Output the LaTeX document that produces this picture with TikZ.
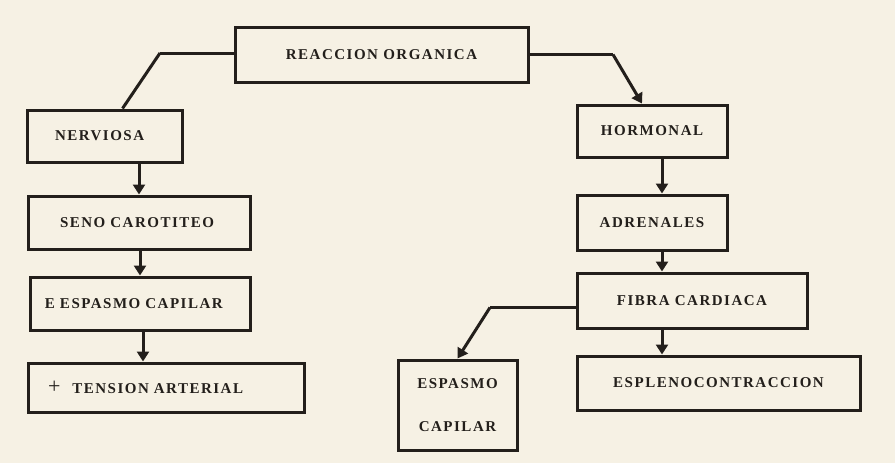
\documentclass[tikz,border=0pt]{standalone}
\usepackage{fontspec}
\usepackage{tikz}
\usetikzlibrary{arrows.meta,positioning}
\newfontfamily\boxfont{Liberation Serif}[LetterSpace=10]
\definecolor{paper}{HTML}{F6F1E4}
\definecolor{ink}{HTML}{231F1B}

\tikzset{
  box/.style={draw=ink, text=ink, line width=3pt, inner sep=0pt,
    font=\boxfont\bfseries\fontsize{15}{17}\selectfont, align=center},
  link/.style={draw=ink, line width=3pt, line join=round},
  arr/.style={link, -{Triangle[length=10pt,width=12pt]}}
}

\begin{document}
\begin{tikzpicture}[x=1pt,y=1pt]
    \useasboundingbox[fill=paper] (0,0) rectangle (895,-463);
    % top node
    \node[box,minimum width=293,minimum height=55] (reac) at (381.5,-54.5) {REACCION ORGANICA};
    % left branch
    \node[box,text width=99,inner xsep=28,align=left,minimum height=52] (nerv) at (104.5,-136) {NERVIOSA};
    \node[box,text width=158,inner xsep=32,align=left,minimum height=53] (seno) at (139,-222.5) {SENO CAROTITEO};
    \node[box,text width=190,inner xsep=15,align=left,minimum height=53] (espL) at (140,-303.5) {E ESPASMO CAPILAR};
    \node[box,text width=236,inner xsep=20,align=left,minimum height=49] (tens) at (166,-387.5) {{\fontsize{22}{22}\mdseries\selectfont +}\hspace{12pt}TENSION ARTERIAL};
    % right branch
    \node[box,minimum width=150,minimum height=52] (horm) at (652,-131) {HORMONAL};
    \node[box,minimum width=150,minimum height=55] (adre) at (652,-222.5) {ADRENALES};
    \node[box,minimum width=230,minimum height=55] (fibr) at (692,-300.5) {FIBRA CARDIACA};
    \node[box,minimum width=119,minimum height=90] (espR) at (457.5,-405) {ESPASMO\\[26pt]CAPILAR};
    \node[box,minimum width=283,minimum height=54] (espl) at (718.5,-383) {ESPLENOCONTRACCION};
    % bends
    \coordinate (kL) at (160,-53);
    \coordinate (kR) at (613,-54.5);
    \coordinate (kF) at (490,-307.5);
    \path
    % from the top
    ([yshift=1.5pt]reac.west) edge[link] (kL)
    (kL) edge[link] ([xshift=18pt]nerv.north)
    (reac.east) edge[link] (kR)
    (kR) edge[arr] ([xshift=-10pt]horm.north)
    % left column
    (nerv.south -| seno.north) edge[arr] (seno.north)
    (seno.south -| espL.north) edge[arr] (espL.north)
    ([xshift=3pt]espL.south) edge[arr] ([xshift=3pt]espL.south |- tens.north)
    % right column
    ([xshift=10pt]horm.south) edge[arr] ([xshift=10pt]adre.north)
    ([xshift=10pt]adre.south) edge[arr] ([xshift=10pt]adre.south |- fibr.north)
    ([xshift=10pt]adre.south |- fibr.south) edge[arr] ([xshift=10pt]adre.south |- espl.north)
    ([yshift=-7pt]fibr.west) edge[link] (kF)
    (kF) edge[arr] (espR.north);
\end{tikzpicture}
\end{document}
